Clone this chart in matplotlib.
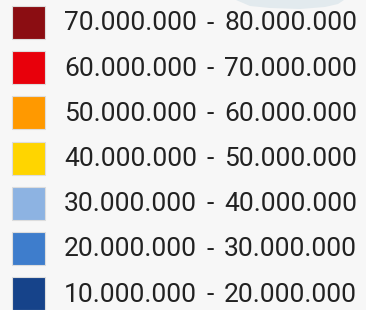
import matplotlib
matplotlib.use('Agg')
import matplotlib.pyplot as plt
from matplotlib.patches import Rectangle, Polygon

# legend classes, top to bottom
lower = ['70.000.000', '60.000.000', '50.000.000', '40.000.000', '30.000.000', '20.000.000', '10.000.000']
upper = ['80.000.000', '70.000.000', '60.000.000', '50.000.000', '40.000.000', '30.000.000', '20.000.000']
colors = ['#8b0d12', '#e8000b', '#ff9900', '#ffd500', '#8db3e2', '#3e7dcc', '#16438a']

W, H = 366, 310
fig = plt.figure(figsize=(W / 100, H / 100), dpi=100)
fig.patch.set_facecolor('#f7f7f7')
ax = fig.add_axes([0, 0, 1, 1])
ax.set_xlim(0, W)
ax.set_ylim(H, 0)
ax.axis('off')

# faint bit of the map peeking out behind the legend
ax.add_patch(Polygon([(236, 0), (344, 0), (338, 4), (325, 7), (300, 9), (270, 8), (250, 6)],
                     closed=True, facecolor='#e2eaee', edgecolor='none'))

y0, step, size = 22.5, 45.2, 33
for i, (lo, hi, c) in enumerate(zip(lower, upper, colors)):
    yc = y0 + i * step
    ax.add_patch(Rectangle((12, yc - size / 2), size, size, facecolor=c,
                           edgecolor='#dddddd', linewidth=0.8))
    kw = dict(fontsize=19, family='Roboto', color='#222222', va='center')
    ax.text(64, yc + 1, lo, ha='left', **kw)
    ax.text(210.5, yc + 1, '-', ha='center', **kw)
    ax.text(224, yc + 1, hi, ha='left', **kw)

fig.savefig('out.png', dpi=100, facecolor=fig.get_facecolor())
